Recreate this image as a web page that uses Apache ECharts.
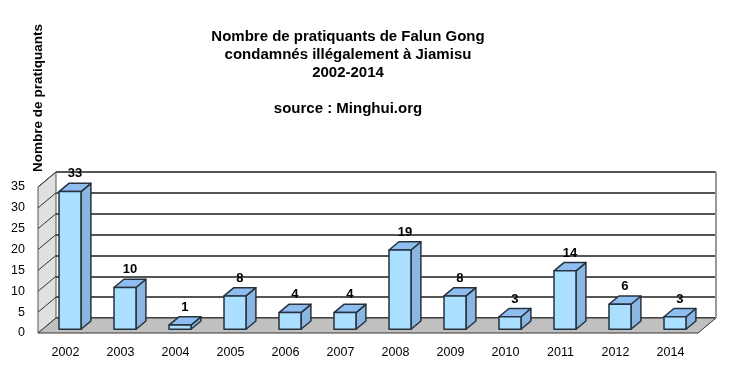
<!DOCTYPE html>
<html>
<head>
<meta charset="utf-8">
<script src="https://cdn.jsdelivr.net/npm/echarts@6/dist/echarts.min.js"></script>
<style>
  html, body { margin: 0; padding: 0; background: #fff; }
  #chart { width: 741px; height: 376px; }
</style>
</head>
<body>
<div id="chart"></div>
<script>
// données
const annees = ['2002', '2003', '2004', '2005', '2006', '2007', '2008', '2009', '2010', '2011', '2012', '2014'];
const condamnes = [33, 10, 1, 8, 4, 4, 19, 8, 3, 14, 6, 3];
const graduations = [0, 5, 10, 15, 20, 25, 30, 35];

// profondeur du "3D" (décalage arrière du décor)
const DX = 18, DY = -15;
const BAR_W = 22;
const barFront = 0.25, barBack = 0.8;

const chart = echarts.init(document.getElementById('chart'));

function pt(p, f) { return [p[0] + DX * f, p[1] + DY * f]; }

// murs gauche + sol
function renderDecor(params, api) {
  const cs = params.coordSys;
  const x0 = cs.x, x1 = cs.x + cs.width, yb = cs.y + cs.height, yt = cs.y;
  const children = [];
  // mur gauche
  children.push({
    type: 'polygon',
    shape: { points: [[x0, yb], [x0, yt], [x0 + DX, yt + DY], [x0 + DX, yb + DY]] },
    style: { fill: '#e0e0e0', stroke: '#555', lineWidth: 1 }
  });
  // sol
  children.push({
    type: 'polygon',
    shape: { points: [[x0, yb], [x1, yb], [x1 + DX, yb + DY], [x0 + DX, yb + DY]] },
    style: { fill: '#c0c0c0', stroke: '#333', lineWidth: 1 }
  });
  // lignes du mur gauche
  graduations.forEach(v => {
    if (v === 0) return;
    const p = api.coord([0, v]);
    children.push({
      type: 'line',
      shape: { x1: x0, y1: p[1], x2: x0 + DX, y2: p[1] + DY },
      style: { stroke: '#333', lineWidth: 1 }
    });
  });
  // bord droit du mur du fond
  const ptop = api.coord([0, 35]);
  children.push({
    type: 'line',
    shape: { x1: x1 + DX, y1: ptop[1] + DY, x2: x1 + DX, y2: yb + DY },
    style: { stroke: '#999', lineWidth: 2 }
  });
  return { type: 'group', children: children };
}

function renderBar(params, api) {
  const i = api.value(0), v = api.value(1);
  const top = api.coord([i, v]);
  const base = api.coord([i, 0]);
  const h = base[1] - top[1];
  const f = pt([top[0] - BAR_W / 2, top[1]], barFront);
  const bx = DX * (barBack - barFront), by = DY * (barBack - barFront);
  const st = { stroke: '#26323e', lineWidth: 1.5, lineJoin: 'round' };
  return {
    type: 'group',
    children: [
      { type: 'polygon', shape: { points: [[f[0] + BAR_W, f[1]], [f[0] + BAR_W + bx, f[1] + by], [f[0] + BAR_W + bx, f[1] + by + h], [f[0] + BAR_W, f[1] + h]] },
        style: Object.assign({ fill: '#8cb6e2' }, st) },
      { type: 'polygon', shape: { points: [[f[0], f[1]], [f[0] + bx, f[1] + by], [f[0] + BAR_W + bx, f[1] + by], [f[0] + BAR_W, f[1]]] },
        style: Object.assign({ fill: '#8fbdf0' }, st) },
      { type: 'rect', shape: { x: f[0], y: f[1], width: BAR_W, height: h },
        style: Object.assign({ fill: '#abdfff' }, st) },
      { type: 'text', x: f[0] + BAR_W / 2 + bx / 2, y: f[1] + by - 3,
        style: { text: String(v), fill: '#000', font: 'bold 13px "Liberation Sans", Arial', align: 'center', verticalAlign: 'bottom' } }
    ]
  };
}

chart.setOption({
  backgroundColor: '#fff',
  animation: false,
  title: {
    text: 'Nombre de pratiquants de Falun Gong\ncondamnés illégalement à Jiamisu\n2002-2014\n\nsource : Minghui.org',
    left: 343, top: 23, textAlign: 'center',
    textStyle: { fontFamily: '"Liberation Sans", Arial', fontSize: 15, fontWeight: 'bold', color: '#000', lineHeight: 18 }
  },
  graphic: [{
    type: 'text', x: 38, y: 98, rotation: Math.PI / 2,
    style: { text: 'Nombre de pratiquants', fill: '#000', font: 'bold 13.5px "Liberation Sans", Arial', align: 'center', verticalAlign: 'middle' }
  }],
  grid: [
    { left: 38, right: 43, top: 187, bottom: 43 },
    { left: 38 + DX, right: 43 - DX, top: 187 + DY, bottom: 43 - DY }
  ],
  xAxis: [
    { type: 'category', gridIndex: 0, data: annees,
      axisLine: { show: false }, axisTick: { show: false },
      axisLabel: { margin: 13, color: '#000', fontFamily: '"Liberation Sans", Arial', fontSize: 12.5 } },
    { type: 'category', gridIndex: 1, data: annees, show: false }
  ],
  yAxis: [
    { type: 'value', gridIndex: 0, min: 0, max: 35, interval: 5,
      axisLine: { show: false }, axisTick: { show: false }, splitLine: { show: false },
      axisLabel: { margin: 13, color: '#000', fontFamily: '"Liberation Sans", Arial', fontSize: 12.5 } },
    { type: 'value', gridIndex: 1, min: 0, max: 35, interval: 5,
      axisLine: { show: false }, axisTick: { show: false }, axisLabel: { show: false },
      splitLine: { show: true, lineStyle: { color: '#555', width: 2 } } }
  ],
  series: [
    { type: 'custom', xAxisIndex: 0, yAxisIndex: 0, z: 1, silent: true,
      renderItem: renderDecor, data: [[0, 0]] },
    { type: 'custom', xAxisIndex: 0, yAxisIndex: 0, z: 5,
      renderItem: renderBar,
      data: condamnes.map((v, i) => [i, v]) }
  ]
});
</script>
</body>
</html>
